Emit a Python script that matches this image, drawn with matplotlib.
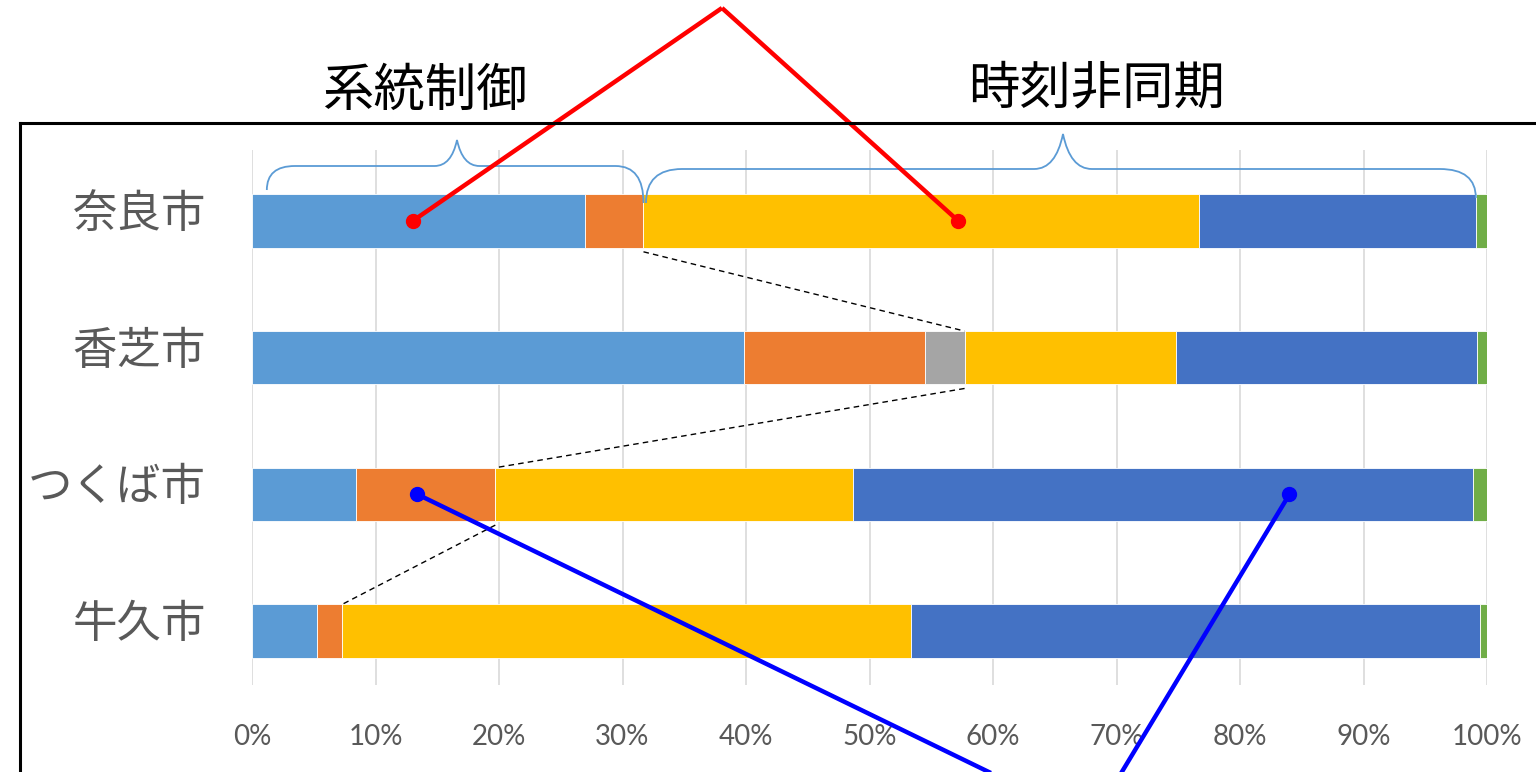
import matplotlib
matplotlib.use("Agg")
import matplotlib.pyplot as plt
import numpy as np
from matplotlib.lines import Line2D
from matplotlib.path import Path
from matplotlib.patches import PathPatch
from matplotlib.transforms import ScaledTranslation

plt.rcParams['font.family'] = ['Noto Sans CJK JP', 'DejaVu Sans']

cities = ["奈良市", "香芝市", "つくば市", "牛久市"]
seg_light_blue = [27.0, 39.8, 8.4, 5.3]
seg_orange = [4.7, 14.7, 11.3, 2.0]
seg_gray = [0.0, 3.2, 0.0, 0.0]
seg_yellow = [45.0, 17.1, 29.0, 46.1]
seg_dark_blue = [22.4, 24.4, 50.2, 46.0]
seg_green = [0.9, 0.8, 1.1, 0.6]
xticks = [0, 10, 20, 30, 40, 50, 60, 70, 80, 90, 100]
xtick_labels = [f"{v}%" for v in xticks]
title_left = "系統制御"
title_right = "時刻非同期"

series = [seg_light_blue, seg_orange, seg_gray, seg_yellow, seg_dark_blue, seg_green]
colors = ["#5b9bd5", "#ed7d31", "#a5a5a5", "#ffc000", "#4472c4", "#70ad47"]

W, H = 1536, 772
fig = plt.figure(figsize=(W / 100, H / 100), dpi=100)
ax = fig.add_axes([252 / W, (H - 685) / H, 1235 / W, 535 / H])

y = np.arange(len(cities))
left = np.zeros(len(cities))
for vals, c in zip(series, colors):
    v = np.array(vals) / 100
    ax.barh(y, v, left=left, height=0.39, color=c, edgecolor="white", linewidth=0.6, zorder=2)
    left += v

ax.set_xlim(0, 1.0)
ax.set_ylim(3.395, -0.52)
ax.set_xticks(np.array(xticks) / 100)
ax.set_xticklabels(xtick_labels, fontsize=20, color="#595959", family=["Lato", "DejaVu Sans"])
ax.set_yticks(y)
ax.set_yticklabels(cities, fontsize=32, color="#595959")
ax.tick_params(axis="x", length=0, pad=28)
ax.tick_params(axis="y", length=0, pad=33)
for lab in ax.get_yticklabels():
    lab.set_transform(lab.get_transform() + ScaledTranslation(0, 0.12, fig.dpi_scale_trans))
for s in ax.spines.values():
    s.set_visible(False)
ax.grid(axis="x", color="#d9d9d9", linewidth=1.2, zorder=0)
ax.set_axisbelow(True)

# helper: pixel (figure) -> data
def px2data(px, py):
    disp = fig.transFigure.transform((px / W, 1 - py / H))
    return ax.transData.inverted().transform(disp)

fig.canvas.draw()

# black frame
fig.add_artist(Line2D([20 / W, 1.0], [1 - 123 / H, 1 - 123 / H], transform=fig.transFigure, color="black", lw=2.2))
fig.add_artist(Line2D([20 / W, 20 / W], [1 - 123 / H, 0], transform=fig.transFigure, color="black", lw=2.2))

# titles
fig.text(425 / W, 1 - 91 / H, title_left, fontsize=37, ha="center", va="center", color="black")
fig.text(1097 / W, 1 - 89 / H, title_right, fontsize=37, ha="center", va="center", color="black")

# cumulative values
cum = np.cumsum(np.array(series) / 100, axis=0)
sys_end = cum[2]  # light blue + orange + gray
half = 0.195

# dashed connectors between bars
for i in range(len(cities) - 1):
    ax.plot([sys_end[i], sys_end[i + 1]], [i + half + 0.03, i + 1 - half], ls=(0, (4, 3)),
            color="black", lw=1.0, zorder=3, clip_on=False)

# braces
def brace(x0, x1, xpeak, ybase0, ybase1, yh, ypk, r):
    pts = [
        (x0, ybase0), (x0, yh), (x0 + r, yh),
        (xpeak - r * 0.8, yh), (xpeak - r * 0.2, yh), (xpeak, ypk),
        (xpeak + r * 0.2, yh), (xpeak + r * 0.8, yh),
        (x1 - r, yh), (x1, yh), (x1, ybase1),
    ]
    verts = [tuple(px2data(a, b)) for a, b in pts]
    codes = [Path.MOVETO, Path.CURVE3, Path.CURVE3, Path.LINETO, Path.CURVE3, Path.CURVE3,
             Path.CURVE3, Path.CURVE3, Path.LINETO, Path.CURVE3, Path.CURVE3]
    ax.add_patch(PathPatch(Path(verts, codes), fill=False, edgecolor="#5b9bd5", lw=1.3,
                           zorder=4, clip_on=False))

def d2px(xd):
    return 252 + xd * 1235

brace(d2px(0.012), d2px(sys_end[0]), 457, 190, 203, 166, 140, 28)
brace(d2px(sys_end[0] + 0.002), d2px(cum[4][0]), 1063, 203, 198, 169, 134, 36)

# red annotation
apex_red = px2data(722, 8)
red_pts = [(0.13, 0), (0.572, 0)]
for xd, yd in red_pts:
    ax.plot([xd, apex_red[0]], [yd, apex_red[1]], color="#ff0000", lw=3.2, zorder=6, clip_on=False,
            solid_capstyle="butt")
    ax.plot(xd, yd, "o", color="#ff0000", ms=10, zorder=7, clip_on=False)

# blue annotation
blue_pts = [(0.134, 2, 995), (0.84, 2, 1120)]
for xd, yd, bx in blue_pts:
    b = px2data(bx, 775)
    ax.plot([xd, b[0]], [yd, b[1]], color="#0000ff", lw=3.2, zorder=6, clip_on=False,
            solid_capstyle="butt")
    ax.plot(xd, yd, "o", color="#0000ff", ms=10, zorder=7, clip_on=False)

fig.savefig("out.png", dpi=100)
